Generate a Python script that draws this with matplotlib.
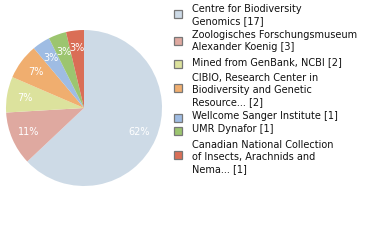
import matplotlib
matplotlib.use("Agg")
import matplotlib.pyplot as plt
from matplotlib.patches import Rectangle

labels = [
    "Centre for Biodiversity\nGenomics [17]",
    "Zoologisches Forschungsmuseum\nAlexander Koenig [3]",
    "Mined from GenBank, NCBI [2]",
    "CIBIO, Research Center in\nBiodiversity and Genetic\nResource... [2]",
    "Wellcome Sanger Institute [1]",
    "UMR Dynafor [1]",
    "Canadian National Collection\nof Insects, Arachnids and\nNema... [1]",
]
counts = [17, 3, 2, 2, 1, 1, 1]
colors = ["#CDDAE6", "#DFA9A0", "#DCE29D", "#F0AE6F", "#9FBCE3", "#9CC56F", "#DA6E56"]

W, H = 380, 240
fig = plt.figure(figsize=(W / 100, H / 100), dpi=100)
cx, cy, r = 84, 108, 78
ax = fig.add_axes([(cx - r) / W, (H - cy - r) / H, 2 * r / W, 2 * r / H])
total = sum(counts)
wedges, texts, autotexts = ax.pie(
    counts, colors=colors, startangle=90, counterclock=False, radius=1.0,
    autopct="%d%%", pctdistance=0.77, wedgeprops=dict(linewidth=0),
    textprops=dict(color="white", fontsize=7),
)
for t, c in zip(autotexts, counts):
    t.set_text("%d%%" % int(100 * c / total))
ax.set_xlim(-1, 1)
ax.set_ylim(-1, 1)
ax.set_aspect("equal")
ax.axis("off")

# legend
entry_tops = [4, 30, 57, 73, 111, 124, 140]
sq_y = [14, 41, 64, 88, 118, 131, 155]
for lab, col, top, sy in zip(labels, colors, entry_tops, sq_y):
    fig.patches.append(Rectangle((174 / W, (H - sy - 4) / H), 8 / W, 8 / H,
                                 transform=fig.transFigure, facecolor=col,
                                 edgecolor="#777777", linewidth=0.9))
    fig.text(192 / W, (H - top) / H, lab, fontsize=7, va="top", ha="left",
             color="#111111", linespacing=1.25)

fig.savefig("out.png", dpi=100)
